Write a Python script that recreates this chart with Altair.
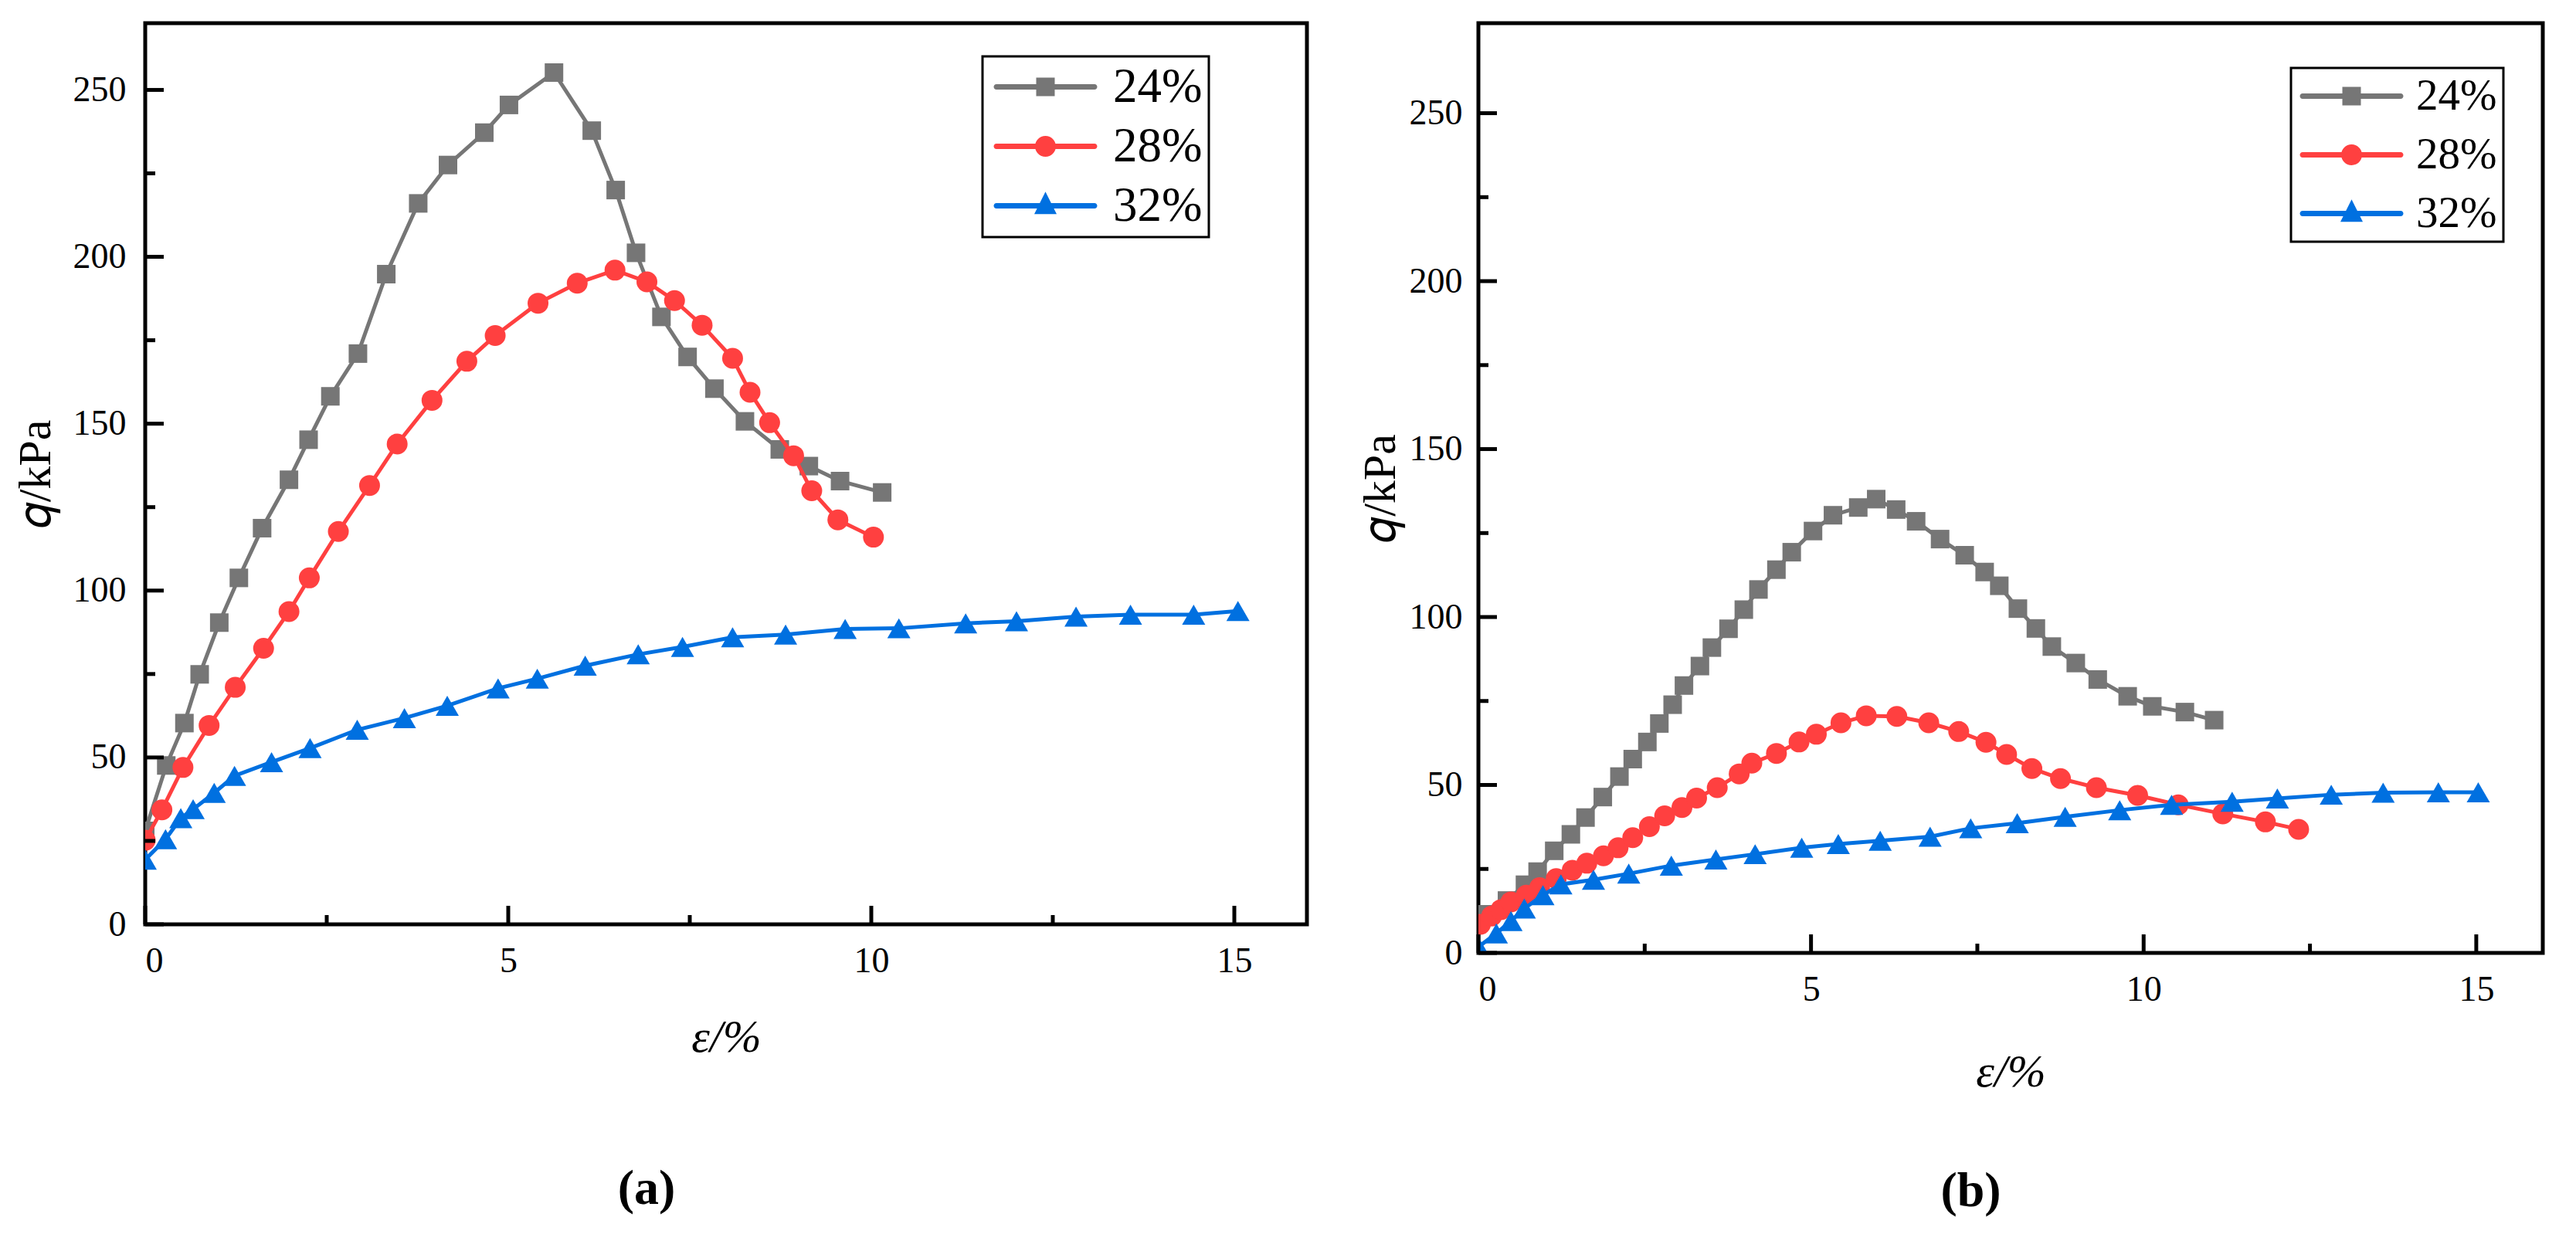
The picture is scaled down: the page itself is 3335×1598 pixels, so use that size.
import pandas as pd
import altair as alt

FONT = "Liberation Serif, Times New Roman, serif"

series = ["24%", "28%", "32%"]
colors = ["#767676", "#FF4040", "#0070E0"]
shapes = ["square", "circle", "triangle-up"]
sizes = [576, 729, 900]

# panel (a)
eps_a_24 = [0, 0.29, 0.54, 0.75, 1.02, 1.29, 1.61, 1.98, 2.25, 2.55, 2.93, 3.32, 3.76, 4.17,
            4.67, 5.01, 5.63, 6.15, 6.48, 6.76, 7.11, 7.47, 7.84, 8.26, 8.74, 9.14, 9.57, 10.15]
q_a_24 = [28, 47.6, 60.3, 74.9, 90.4, 103.8, 118.7, 133.2, 145.2, 158.2, 171, 194.8, 216, 227.5,
          237.2, 245.5, 255.2, 237.8, 220, 201.2, 182, 170, 160.5, 150.7, 142.3, 137.3, 132.8, 129.4]
eps_a_28 = [0, 0.23, 0.52, 0.88, 1.24, 1.63, 1.98, 2.26, 2.66, 3.09, 3.47, 3.95, 4.43, 4.82,
            5.41, 5.95, 6.47, 6.91, 7.29, 7.67, 8.09, 8.33, 8.6, 8.93, 9.18, 9.54, 10.03]
q_a_28 = [25.2, 34.3, 47.0, 59.6, 71.0, 82.7, 93.7, 103.8, 117.7, 131.5, 143.9, 157, 168.7, 176.4,
          186.1, 192.1, 196, 192.5, 186.9, 179.5, 169.6, 159.4, 150.3, 140.4, 129.9, 121.2, 116]
eps_a_32 = [0, 0.28, 0.49, 0.66, 0.95, 1.23, 1.74, 2.27, 2.92, 3.57, 4.16, 4.86, 5.4, 6.06,
            6.79, 7.4, 8.09, 8.82, 9.64, 10.38, 11.3, 12.0, 12.82, 13.57, 14.44, 15.05]
q_a_32 = [19.4, 25.5, 31.8, 34.5, 39.4, 44.5, 48.6, 52.8, 58.3, 61.8, 65.5, 70.7, 73.6, 77.5,
          80.9, 83.1, 86, 86.8, 88.5, 88.7, 90.2, 90.8, 92.2, 92.8, 92.8, 93.9]

# panel (b)
eps_b_24 = [0.10, 0.43, 0.70, 0.89, 1.14, 1.39, 1.61, 1.87, 2.12, 2.32, 2.54, 2.72, 2.92, 3.09,
            3.33, 3.51, 3.76, 3.99, 4.21, 4.48, 4.71, 5.03, 5.33, 5.71, 5.98, 6.28, 6.58, 6.94,
            7.31, 7.61, 7.83, 8.11, 8.38, 8.62, 8.98, 9.31, 9.76, 10.13, 10.62, 11.06]
q_b_24 = [11.5, 15.6, 20.3, 24.2, 30.4, 35.3, 40.3, 46.4, 52.5, 57.7, 62.8, 68.3, 73.9, 79.6,
          85.4, 90.9, 96.5, 102.2, 108.2, 114.1, 119.3, 125.6, 130.3, 132.6, 135.1, 132, 128.5, 123.2,
          118.4, 113.4, 109.3, 102.5, 96.6, 91.2, 86.3, 81.4, 76.4, 73.4, 71.7, 69.3]
eps_b_28 = [0.03, 0.2, 0.34, 0.49, 0.72, 0.92, 1.17, 1.41, 1.63, 1.88, 2.10, 2.32, 2.57, 2.80,
            3.06, 3.28, 3.59, 3.92, 4.11, 4.48, 4.82, 5.08, 5.45, 5.83, 6.29, 6.77, 7.22, 7.63,
            7.94, 8.32, 8.75, 9.29, 9.91, 10.52, 11.19, 11.83, 12.33]
q_b_28 = [8.5, 11, 12.9, 15.2, 17.2, 19.4, 22.1, 24.6, 26.7, 28.9, 31.3, 34.3, 37.6, 40.8,
          43.3, 46.1, 49.2, 53.3, 56.5, 59.4, 62.8, 65.1, 68.5, 70.6, 70.4, 68.5, 65.9, 62.7,
          59.1, 54.9, 51.9, 49.2, 46.9, 44.1, 41.4, 39.0, 36.8]
eps_b_32 = [0, 0.27, 0.49, 0.69, 0.97, 1.24, 1.73, 2.26, 2.90, 3.57, 4.16, 4.86, 5.41, 6.04,
            6.79, 7.40, 8.10, 8.82, 9.64, 10.42, 11.33, 12.01, 12.82, 13.60, 14.43, 15.03]
q_b_32 = [1.8, 5.8, 9.5, 13.2, 17.2, 20.4, 21.8, 23.6, 26.0, 27.8, 29.4, 31.3, 32.4, 33.4,
          34.6, 37.1, 38.6, 40.5, 42.5, 44.1, 45.0, 46.0, 47.1, 47.7, 47.8, 47.8]

x_major = [0, 5, 10, 15]
x_minor = [2.5, 7.5, 12.5]
y_major = [0, 50, 100, 150, 200, 250]
y_minor = [25, 75, 125, 175, 225]

# legend symbols: round-capped line segment with the marker in its middle
LINE = ("M -0.86 -0.14 L 4.22 -0.14 A 0.14 0.14 0 0 1 4.22 0.14 "
        "L -0.86 0.14 A 0.14 0.14 0 0 1 -0.86 -0.14 Z ")
legend_paths = [
    LINE + "M 1.2 -0.48 L 2.16 -0.48 L 2.16 0.48 L 1.2 0.48 Z",
    LINE + "M 1.14 0 A 0.54 0.54 0 1 1 2.22 0 A 0.54 0.54 0 1 1 1.14 0 Z",
    LINE + "M 1.68 -0.73 L 2.26 0.43 L 1.1 0.43 Z",
]


def make_df(pairs):
    rows = []
    for s, (xs, ys) in zip(series, pairs):
        rows += [{"series": s, "eps": a, "q": b} for a, b in zip(xs, ys)]
    return pd.DataFrame(rows)


def panel(df, w, h, ymax, leg_x, leg_y, leg_font, leg_offset, leg_rows, label_pad,
          ytitle_pad, xtitle_pad, caption, cap_offset, cap_dx):
    xs = alt.Scale(domain=[0, 16], nice=False, zero=False)
    ys = alt.Scale(domain=[0, ymax], nice=False)
    axis_font = dict(labelFont=FONT, labelFontSize=46, labelColor="black",
                     titleFont=FONT, titleFontSize=60, titleColor="black",
                     titleFontWeight="normal")
    x_axis = alt.Axis(values=x_major, title="ε/%", titleFontStyle="italic", labelPadding=25,
                      titlePadding=xtitle_pad, **axis_font)
    y_axis = alt.Axis(values=y_major, title="𝑞/kPa", labelPadding=label_pad,
                      titlePadding=ytitle_pad, **axis_font)
    cscale = alt.Scale(domain=series, range=colors)
    base = alt.Chart(df)

    def xy(xf="eps", yf="q"):
        return dict(x=alt.X(f"{xf}:Q", scale=xs, axis=x_axis, title="ε/%"),
                    y=alt.Y(f"{yf}:Q", scale=ys, axis=y_axis, title="𝑞/kPa"))

    layers = []
    for s, c, sh, sz in zip(series, colors, shapes, sizes):
        one = base.transform_filter(alt.datum.series == s)
        layers.append(one.mark_line(strokeWidth=5, color=c, clip=True).encode(**xy()))
        layers.append(one.mark_point(
            shape=sh, filled=True, size=sz, color=c, opacity=1, clip=True
        ).encode(**xy()))

    leg = alt.Legend(title=None, orient="none", legendX=leg_x, legendY=leg_y,
                     symbolSize=2500, symbolStrokeWidth=0, symbolOpacity=1,
                     labelFont=FONT, labelFontSize=leg_font, labelColor="black",
                     labelOffset=leg_offset, rowPadding=leg_rows, padding=8,
                     strokeColor="black", fillColor="white")
    legend_layer = base.transform_filter("false").mark_point(filled=True, opacity=1).encode(
        color=alt.Color("series:N", scale=cscale, legend=leg),
        shape=alt.Shape("series:N", scale=alt.Scale(domain=series, range=legend_paths), legend=leg),
        **xy(),
    )
    layers.append(legend_layer)

    rule = dict(color="black", strokeWidth=5)
    layers.append(alt.Chart(pd.DataFrame({"v": y_major})).mark_rule(**rule).encode(
        y=xy(yf="v")["y"], x=alt.value(0), x2=alt.value(24)))
    layers.append(alt.Chart(pd.DataFrame({"v": y_minor})).mark_rule(**rule).encode(
        y=xy(yf="v")["y"], x=alt.value(0), x2=alt.value(13)))
    layers.append(alt.Chart(pd.DataFrame({"v": x_major})).mark_rule(**rule).encode(
        x=xy(xf="v")["x"], y=alt.value(h), y2=alt.value(h - 24)))
    layers.append(alt.Chart(pd.DataFrame({"v": x_minor})).mark_rule(**rule).encode(
        x=xy(xf="v")["x"], y=alt.value(h), y2=alt.value(h - 12)))

    return alt.layer(*layers).properties(
        width=w, height=h,
        title=alt.TitleParams(caption, orient="bottom", anchor="middle", frame="bounds",
                              font=FONT, fontSize=64, fontWeight="bold", color="black",
                              offset=cap_offset, dx=cap_dx),
    )


df_a = make_df([(eps_a_24, q_a_24), (eps_a_28, q_a_28), (eps_a_32, q_a_32)])
df_b = make_df([(eps_b_24, q_b_24), (eps_b_28, q_b_28), (eps_b_32, q_b_32)])

left = panel(df_a, 1504, 1167, 270, 1084, 43, 63, 98, 13, 25, 17, 47, "(a)", 135, -17)
right = panel(df_b, 1378, 1204, 276.8, 1052, 58, 57, 97, 18, 21, 6, 55, "(b)", 93, 27)

chart = alt.hconcat(left, right, spacing=59).resolve_scale(
    color="independent", shape="independent"
).resolve_legend(
    color="independent", shape="independent"
).properties(
    padding={"left": 5, "top": 19, "right": 5, "bottom": 5}
).configure_view(
    stroke="black", strokeWidth=5
).configure_axis(
    ticks=False, domain=False, grid=False
).configure_legend(
    strokeWidth=3
)

chart.save("out.html", embed_options={"renderer": "svg", "actions": False})
